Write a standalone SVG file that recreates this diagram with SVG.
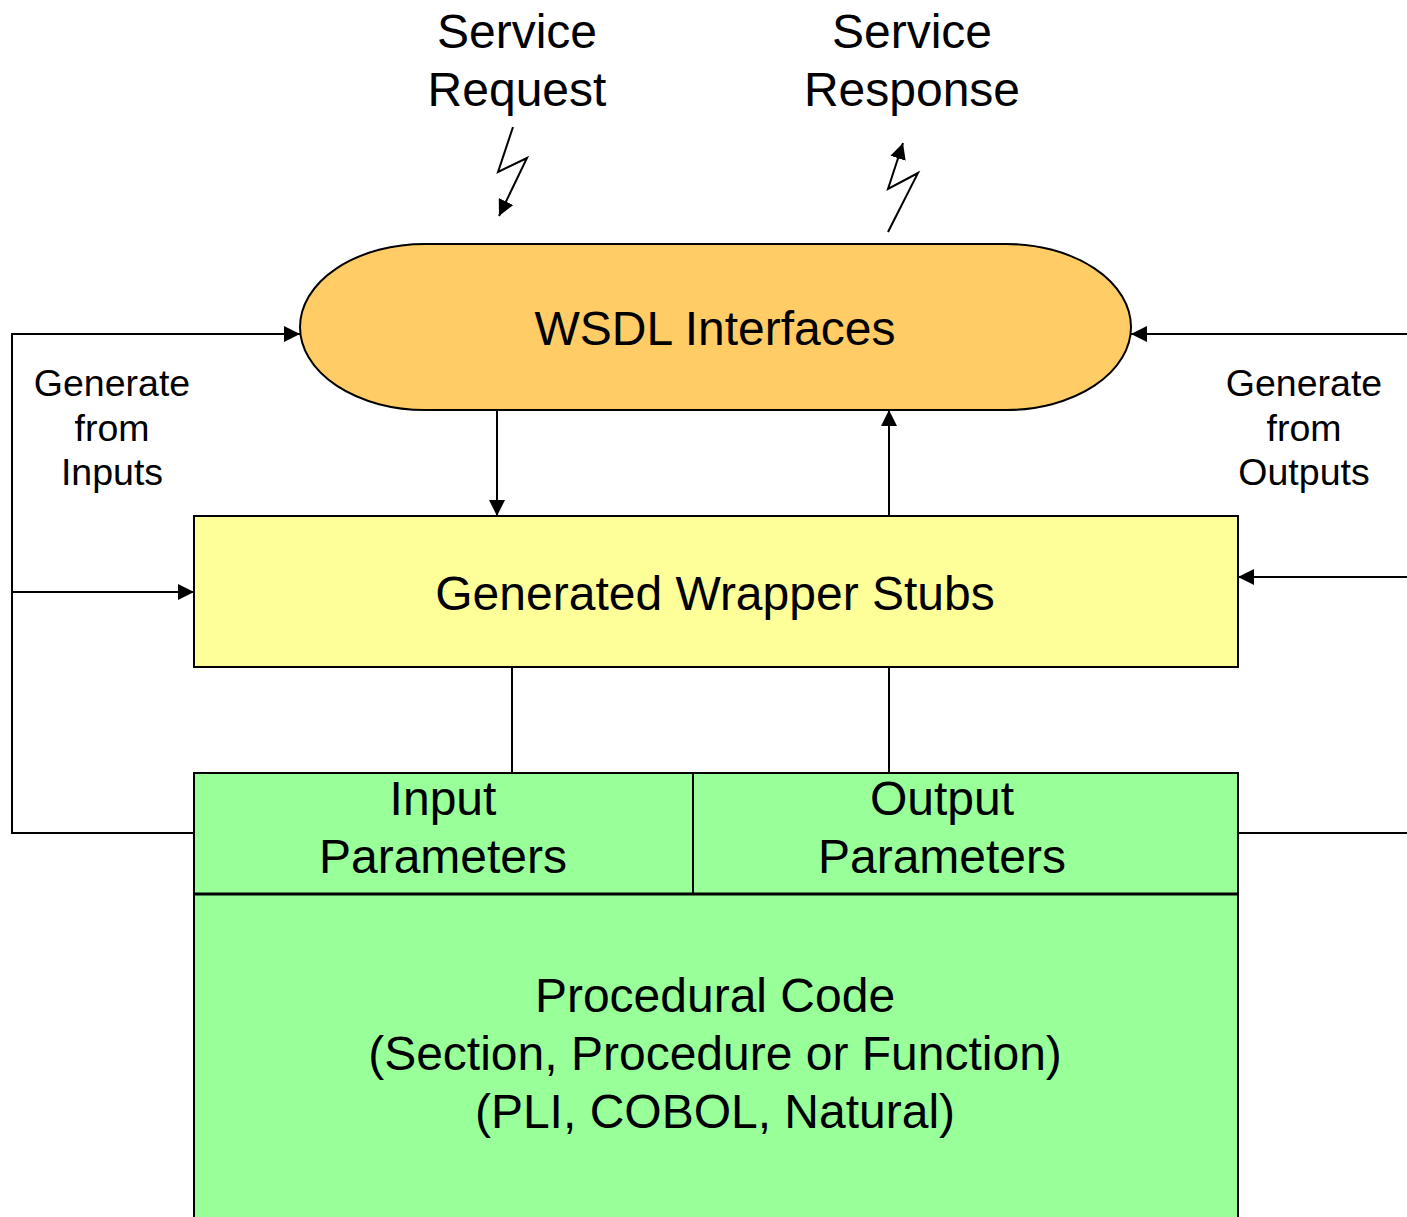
<svg xmlns="http://www.w3.org/2000/svg" width="1407" height="1217" viewBox="0 0 1407 1217">
  <style>
    text { font-family: "Liberation Sans", Arial, sans-serif; fill: #000; text-anchor: middle; }
    .big { font-size: 48px; }
    .lbl { font-size: 37.5px; }
    .edge { stroke: #000; stroke-width: 2; fill: none; }
    .box { stroke: #000; stroke-width: 2; }
  </style>
  <defs>
    <marker id="arrow" viewBox="0 0 10 10" refX="10" refY="5" markerWidth="16" markerHeight="16" markerUnits="userSpaceOnUse" orient="auto">
      <path d="M0,0 L10,5 L0,10 Z" fill="#000"/>
    </marker>
  </defs>

  <rect width="1407" height="1217" fill="#fff"/>

  <!-- external messages -->
  <g id="service-request">
    <text class="big" x="517" y="48">Service</text>
    <text class="big" x="517" y="106">Request</text>
  </g>
  <g id="service-response">
    <text class="big" x="912" y="48">Service</text>
    <text class="big" x="912" y="106">Response</text>
  </g>

  <!-- nodes -->
  <g id="wsdl-interfaces">
    <rect class="box" x="300" y="244" width="831" height="166" rx="125" ry="83" fill="#FFCC66"/>
    <text class="big" x="715" y="345">WSDL Interfaces</text>
  </g>

  <g id="wrapper-stubs">
    <rect class="box" x="194" y="516" width="1044" height="151" fill="#FFFF99"/>
    <text class="big" x="715" y="610">Generated Wrapper Stubs</text>
  </g>

  <g id="procedural-code">
    <rect class="box" x="194" y="773" width="1044" height="460" fill="#99FF99"/>
    <line x1="194" y1="894" x2="1238" y2="894" stroke="#000" stroke-width="3"/>
    <line x1="693" y1="773" x2="693" y2="894" stroke="#000" stroke-width="2"/>
    <text class="big" x="715" y="1012">Procedural Code</text>
    <text class="big" x="715" y="1070">(Section, Procedure or Function)</text>
    <text class="big" x="715" y="1128">(PLI, COBOL, Natural)</text>
  </g>

  <g id="input-parameters">
    <text class="big" x="443" y="815">Input</text>
    <text class="big" x="443" y="873">Parameters</text>
  </g>

  <g id="output-parameters">
    <text class="big" x="942" y="815">Output</text>
    <text class="big" x="942" y="873">Parameters</text>
  </g>

  <g id="label-inputs">
    <text class="lbl" x="112" y="396">Generate</text>
    <text class="lbl" x="112" y="441">from</text>
    <text class="lbl" x="112" y="485">Inputs</text>
  </g>
  <g id="label-outputs">
    <text class="lbl" x="1304" y="396">Generate</text>
    <text class="lbl" x="1304" y="441">from</text>
    <text class="lbl" x="1304" y="485">Outputs</text>
  </g>

  <!-- connectors -->
  <g id="connectors">
    <!-- lightning arrows -->
    <polyline class="edge" points="513,127 498,172 527,158 499,216" marker-end="url(#arrow)"/>
    <polyline class="edge" points="888,232 918,173 888,189 903,143" marker-end="url(#arrow)"/>

    <!-- WSDL <-> stubs -->
    <line class="edge" x1="497" y1="410" x2="497" y2="516" marker-end="url(#arrow)"/>
    <line class="edge" x1="889" y1="516" x2="889" y2="410" marker-end="url(#arrow)"/>

    <!-- stubs to parameters -->
    <line class="edge" x1="512" y1="667" x2="512" y2="773"/>
    <line class="edge" x1="889" y1="667" x2="889" y2="773"/>

    <!-- generate from inputs loop -->
    <polyline class="edge" points="194,833 12,833 12,334 300,334" marker-end="url(#arrow)"/>
    <line class="edge" x1="12" y1="592" x2="194" y2="592" marker-end="url(#arrow)"/>

    <!-- generate from outputs loop -->
    <line class="edge" x1="1238" y1="833" x2="1407" y2="833"/>
    <line class="edge" x1="1407" y1="334" x2="1131" y2="334" marker-end="url(#arrow)"/>
    <line class="edge" x1="1407" y1="577" x2="1238" y2="577" marker-end="url(#arrow)"/>
  </g>
</svg>
